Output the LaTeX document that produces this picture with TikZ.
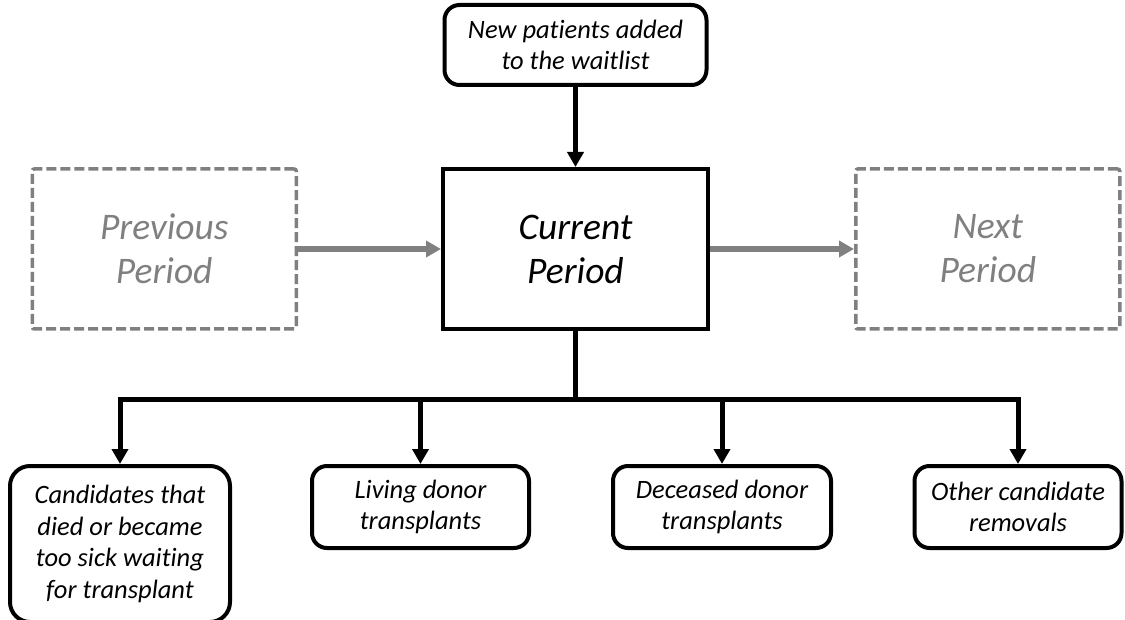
\documentclass[tikz,border=0pt]{standalone}
\usepackage{fontspec}
\setmainfont{Carlito}[Ligatures={NoCommon}]
\usepackage{xcolor}
\definecolor{ghostgray}{HTML}{808080}
\usepackage{tikz}
\usetikzlibrary{arrows.meta,positioning}

\begin{document}
\begin{tikzpicture}[
  x=1pt,y=1pt,
  period/.style={draw=black,line width=4pt,minimum width=265pt,minimum height=160pt,inner sep=0pt,align=center,font=\fontsize{37.5}{44}\selectfont\itshape},
  ghost/.style={draw=ghostgray,line width=3.5pt,dash pattern=on 10pt off 4pt,rounded corners=2pt,text=ghostgray,minimum width=264pt,minimum height=160pt,inner sep=0pt,align=center,font=\fontsize{37.5}{44}\selectfont\itshape},
  leaf/.style={draw=black,line width=4pt,rounded corners=15pt,minimum height=82pt,inner sep=0pt,align=center,font=\fontsize{26.5}{31.5}\selectfont\itshape},
  arrow/.style={-{Triangle[length=15pt,width=16pt]},line width=5pt,draw=black},
  grayarrow/.style={-{Triangle[length=15pt,width=16pt]},line width=5.5pt,draw=ghostgray}
]
\useasboundingbox (0,0) rectangle (1125,-620);
\node[period] (cur) at (575.5,-249) {Current\\Period};
\node[ghost,left=143pt of cur] (prev) {Previous\\Period};
\node[ghost,right=144pt of cur] (next) {Next\\Period};
\node[leaf,minimum width=262pt,minimum height=80pt,above=80pt of cur] (newpt) {New patients added\\to the waitlist};
\node[leaf,minimum width=220pt,minimum height=156pt,rounded corners=20pt,below=133pt of cur,xshift=-455.5pt] (died) {Candidates that\\died or became\\too sick waiting\\for transplant};
\node[leaf,minimum width=217pt,below=133pt of cur,xshift=-155pt] (living) {Living donor\\transplants};
\node[leaf,minimum width=218pt,below=133pt of cur,xshift=146.5pt] (deceased) {Deceased donor\\transplants};
\node[leaf,minimum width=207pt,below=133pt of cur,xshift=442.5pt] (other) {Other candidate\\removals};
\coordinate[below=68pt of cur.south] (bus);
\draw[arrow] (newpt) -- (cur);
\draw[grayarrow] (prev) -- (cur);
\draw[grayarrow] (cur) -- (next);
\draw[line width=5pt] (cur.south) -- (bus);
\foreach \n in {died,living,deceased,other}
  \draw[arrow] (bus) -| (\n.north);
\end{tikzpicture}
\end{document}
